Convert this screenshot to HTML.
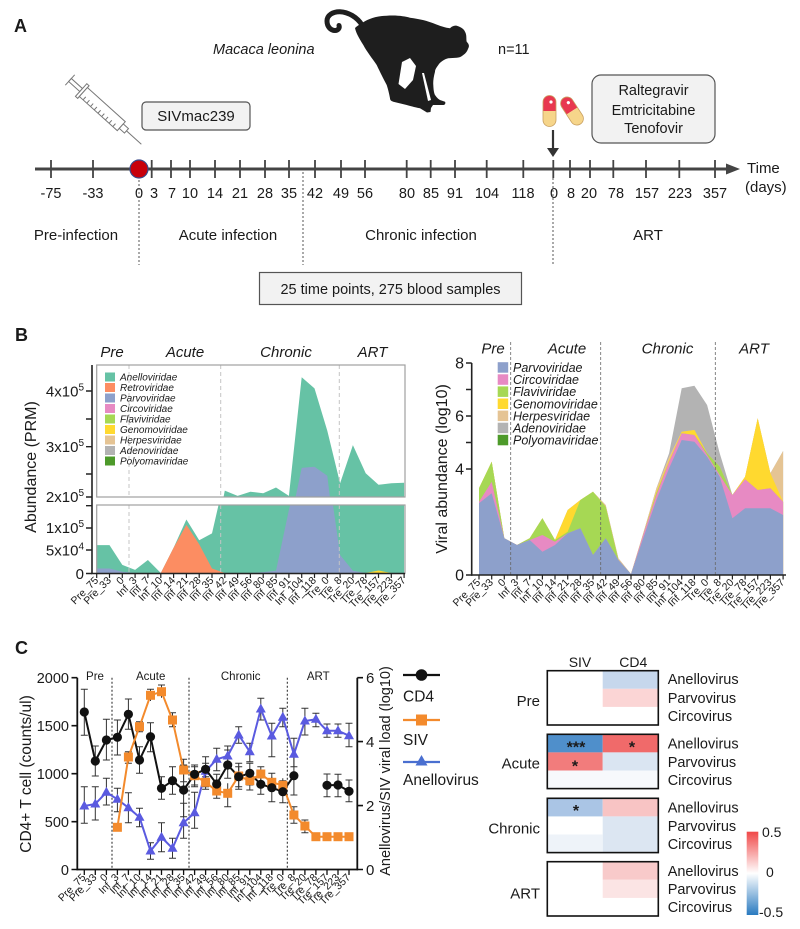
<!DOCTYPE html>
<html><head><meta charset="utf-8">
<style>
html,body{margin:0;padding:0;background:#fff;}
svg{display:block;}
text{font-family:"Liberation Sans",Arial,sans-serif;fill:#1a1a1a;}
</style></head>
<body>
<svg width="800" height="929" viewBox="0 0 800 929" xmlns="http://www.w3.org/2000/svg">
<defs>
<clipPath id="cu"><rect x="96.7" y="365" width="308.3" height="132"/></clipPath>
<clipPath id="cl"><rect x="96.7" y="505" width="308.3" height="68.5"/></clipPath>
<linearGradient id="cb" x1="0" y1="0" x2="0" y2="1">
<stop offset="0" stop-color="#f04848"/><stop offset="0.5" stop-color="#ffffff"/><stop offset="1" stop-color="#2a7ac0"/>
</linearGradient>
</defs>

<!-- ================= PANEL A ================= -->
<text x="14" y="32" font-size="18" font-weight="bold">A</text>
<text x="213" y="54" font-size="14.5" font-style="italic">Macaca leonina</text>
<text x="498" y="54" font-size="14.5">n=11</text>

<!-- monkey -->
<path d="M362 25 C357 17,348 12,340 11.7 C333 11.5,327 15,327 21 C327 27,331 30.5,335 30.5 C338 30.5,340 28,339 25.5" fill="none" stroke="#1e1e1e" stroke-width="5" stroke-linecap="round"/>
<path fill="#1e1e1e" d="M361.7 23.3 C366 20,375 16,386.7 15.7 C398 15,405 16.5,410 17.7 C420 19,428 21,433.3 23.3 C440 26,446 28,450 28.3 C452 26,455 25.5,456.7 25.7 C461 27,464 29,465 31.7 C467 35,466 39,466.7 41.7 C469 44,469.5 46,468.3 48.3 C467 52,465 54,463.3 55 C461 57,459 57.7,456.7 57.7 L448.3 58.3 C445 59,440 62,438.3 65 C436 68,435 70,435 71.7 C433.5 77,433 82,433.3 85 C433.5 90,434 93,435 95 C437 98,439 99.5,440 100 L445 101.7 C446 103,445 105,443.3 105 L433 105 L431 108 L430.5 112 L427 112.5 L420 108.3 C414 107,410 106,406.7 105 L393.3 101.7 C391 101,390 100,390 98.3 C389 93,388 89,386.7 85 C383 78,380 72,376.7 65 C372 58,367 52,363.3 45 C359 38,356 33,355 28 C357 26,359 25,361.7 23.3 Z"/>
<polygon fill="#fff" points="402,62 398.5,84 405,89 413,80 416,66 410,58"/>
<polygon fill="#fff" points="422,73 424,73 431,100 428,101"/>

<!-- syringe -->
<g transform="translate(70,80) rotate(42)" stroke="#777" stroke-width="1" fill="#fff">
<line x1="0" y1="-7" x2="0" y2="7"/>
<rect x="0" y="-2" width="15" height="4"/>
<rect x="15" y="-8.5" width="3" height="17"/>
<rect x="18" y="-6" width="51" height="12"/>
<path d="M23 6V2M28 6V2M33 6V2M38 6V2M43 6V2M48 6V2M53 6V2M58 6V2M63 6V2" fill="none"/>
<rect x="69" y="-3" width="7" height="6"/>
<line x1="76" y1="0" x2="96" y2="0"/>
</g>

<!-- SIVmac239 box -->
<rect x="142" y="102" width="108" height="28" rx="4" fill="#f2f2f2" stroke="#555" stroke-width="1.2"/>
<text x="196" y="121" font-size="15" text-anchor="middle">SIVmac239</text>

<!-- pills -->
<g transform="translate(549.5,111)">
<path d="M-6.5 0V-9A6.5 6.5 0 0 1 6.5 -9V0Z" fill="#e8384f"/>
<path d="M-6.5 0V9A6.5 6.5 0 0 0 6.5 9V0Z" fill="#f6d58a"/>
<rect x="-6.5" y="-15.5" width="13" height="31" rx="6.5" fill="none" stroke="#c9a060" stroke-width="0.8"/>
<circle cx="1.5" cy="-9" r="1.6" fill="#fff"/>
</g>
<g transform="translate(572,111) rotate(-33)">
<path d="M-6.5 0V-9A6.5 6.5 0 0 1 6.5 -9V0Z" fill="#e8384f"/>
<path d="M-6.5 0V9A6.5 6.5 0 0 0 6.5 9V0Z" fill="#f6d58a"/>
<rect x="-6.5" y="-15.5" width="13" height="31" rx="6.5" fill="none" stroke="#c9a060" stroke-width="0.8"/>
<circle cx="1.5" cy="-9" r="1.6" fill="#fff"/>
</g>
<line x1="553" y1="130" x2="553" y2="150" stroke="#333" stroke-width="2.2"/>
<polygon points="547,148 559,148 553,157" fill="#333"/>

<!-- drug box -->
<rect x="592" y="75" width="123" height="68" rx="9" fill="#f2f2f2" stroke="#555" stroke-width="1.2"/>
<text x="653.5" y="95" font-size="14.5" text-anchor="middle">Raltegravir</text>
<text x="653.5" y="115" font-size="14.5" text-anchor="middle">Emtricitabine</text>
<text x="653.5" y="133" font-size="14.5" text-anchor="middle">Tenofovir</text>

<!-- timeline -->
<line x1="35" y1="169" x2="730" y2="169" stroke="#444" stroke-width="3"/>
<polygon points="726,163.5 740,169 726,174.5" fill="#444"/>
<path stroke="#444" stroke-width="1.8" fill="none" d="M51 160V178M93 160V178M151.7 160V178M171 160V178M190 160V178M215 160V178M240 160V178M265 160V178M289 160V178M315 160V178M341 160V178M365 160V178M406.7 160V178M430.7 160V178M455 160V178M486.7 160V178M523.3 160V178M553.3 160V178M570 160V178M590 160V178M613.3 160V178M646 160V178M679.3 160V178M715 160V178"/>
<circle cx="139" cy="169" r="9" fill="#c8000a" stroke="#3a4a8a" stroke-width="1.2"/>
<g font-size="14.5" text-anchor="middle">
<text x="51" y="198">-75</text><text x="93" y="198">-33</text><text x="139" y="198">0</text><text x="154" y="198">3</text>
<text x="172" y="198">7</text><text x="190" y="198">10</text><text x="215" y="198">14</text><text x="240" y="198">21</text>
<text x="265" y="198">28</text><text x="289" y="198">35</text><text x="315" y="198">42</text><text x="341" y="198">49</text>
<text x="365" y="198">56</text><text x="407" y="198">80</text><text x="431" y="198">85</text><text x="455" y="198">91</text>
<text x="487" y="198">104</text><text x="523" y="198">118</text><text x="554" y="198">0</text><text x="571" y="198">8</text>
<text x="589" y="198">20</text><text x="616" y="198">78</text><text x="647" y="198">157</text><text x="680" y="198">223</text>
<text x="715" y="198">357</text>
</g>
<text x="747" y="173" font-size="15">Time</text>
<text x="745" y="192" font-size="15">(days)</text>
<g stroke="#555" stroke-width="1" stroke-dasharray="2,2">
<line x1="139" y1="180" x2="139" y2="265"/>
<line x1="303" y1="172" x2="303" y2="265"/>
<line x1="553" y1="178" x2="553" y2="265"/>
</g>
<g font-size="15" text-anchor="middle">
<text x="76" y="240">Pre-infection</text>
<text x="228" y="240">Acute infection</text>
<text x="421" y="240">Chronic infection</text>
<text x="648" y="240">ART</text>
</g>
<rect x="259.5" y="272.5" width="262" height="32" fill="#f2f2f2" stroke="#555" stroke-width="1.2"/>
<text x="390.5" y="294" font-size="14.5" text-anchor="middle">25 time points, 275 blood samples</text>

<!-- ================= PANEL B ================= -->
<text x="15" y="341" font-size="18" font-weight="bold">B</text>

<!-- B left -->
<g font-size="15" font-style="italic" text-anchor="middle">
<text x="112" y="357">Pre</text><text x="185" y="357">Acute</text><text x="286" y="357">Chronic</text><text x="372.5" y="357">ART</text>
</g>
<g clip-path="url(#cu)">
<polygon fill="#66c2a5" points="96.7,610 96.7,570.1 109.5,570.1 122.3,593.5 135.1,599.3 147.9,587.6 160.8,603 173.6,573.3 186.4,539.9 199.2,564.3 212.0,556.4 224.8,490.6 237.6,495.9 250.4,491.7 263.2,493.3 276.0,487.5 288.9,495.9 301.7,377.2 314.5,388.4 327.3,430.8 340.1,483.2 352.9,445.1 365.7,473.2 378.5,484.8 391.3,483.2 404.1,482.7 404.1,610"/>
<polygon fill="#8da0cb" points="276,610 276.0,600.4 288.9,528.8 301.7,467.9 314.5,466.8 327.3,475.8 340.1,581.8 340.1,610"/>
</g>
<g clip-path="url(#cl)">
<polygon fill="#66c2a5" points="96.7,573 96.7,545.1 109.5,545.1 122.3,564.9 135.1,569.9 147.9,560 160.8,573 173.6,547.8 186.4,519.5 199.2,540.2 212.0,533.4 224.8,477.6 237.6,482.1 250.4,478.5 263.2,479.9 276.0,474.9 288.9,482.1 301.7,381.3 314.5,390.8 327.3,426.8 340.1,471.3 352.9,438.9 365.7,462.8 378.5,472.7 391.3,471.3 404.1,470.9 404.1,573"/>
<polygon fill="#fc8d62" points="147.9,573 160.8,573 173.6,547.8 186.4,524.9 199.2,544.2 212.0,568.5 224.8,573"/>
<polygon fill="#ffd92f" points="365.7,573 378.5,570.5 391.3,573"/>
<polygon fill="#8da0cb" points="96.7,573 96.7,568.5 109.5,568.5 122.3,571.7 135.1,573 250.4,573 263.2,572.1 276.0,570.8 288.9,510 301.7,458.3 314.5,457.4 327.3,465 340.1,555 352.9,570.8 365.7,573"/>
</g>
<g stroke="#c4c4c4" stroke-width="1" stroke-dasharray="4,3">
<line x1="129" y1="365" x2="129" y2="497"/><line x1="220.7" y1="365" x2="220.7" y2="497"/><line x1="339.3" y1="365" x2="339.3" y2="497"/>
<line x1="129" y1="505" x2="129" y2="573"/><line x1="220.7" y1="505" x2="220.7" y2="573"/><line x1="339.3" y1="505" x2="339.3" y2="573"/>
</g>
<rect x="96.7" y="365" width="308.3" height="132" fill="none" stroke="#a0a0a0" stroke-width="1.2"/>
<rect x="96.7" y="505" width="308.3" height="68.5" fill="none" stroke="#a0a0a0" stroke-width="1.2"/>
<!-- legend B left -->
<g font-size="10" font-style="italic">
<rect x="105" y="372.5" width="10" height="9" fill="#66c2a5"/><text x="120" y="380.5">Anelloviridae</text>
<rect x="105" y="383" width="10" height="9" fill="#fc8d62"/><text x="120" y="391">Retroviridae</text>
<rect x="105" y="393.5" width="10" height="9" fill="#8da0cb"/><text x="120" y="401.5">Parvoviridae</text>
<rect x="105" y="404" width="10" height="9" fill="#e78ac3"/><text x="120" y="412">Circoviridae</text>
<rect x="105" y="414.5" width="10" height="9" fill="#a6d854"/><text x="120" y="422.5">Flaviviridae</text>
<rect x="105" y="425" width="10" height="9" fill="#ffd92f"/><text x="120" y="433">Genomoviridae</text>
<rect x="105" y="435.5" width="10" height="9" fill="#e5c494"/><text x="120" y="443.5">Herpesviridae</text>
<rect x="105" y="446" width="10" height="9" fill="#b3b3b3"/><text x="120" y="454">Adenoviridae</text>
<rect x="105" y="456.5" width="10" height="9" fill="#4d9a2a"/><text x="120" y="464.5">Polyomaviridae</text>
</g>
<!-- axes B left -->
<line x1="92" y1="365" x2="92" y2="574" stroke="#222" stroke-width="1.6"/>
<line x1="91" y1="573.5" x2="405" y2="573.5" stroke="#222" stroke-width="1.6"/>
<path stroke="#222" stroke-width="1.4" d="M86 391H92M86 419H92M86 446.7H92M86 474H92M86 497H92M86 505.7H92M86 528H92M86 550H92M86 573.5H92"/>
<path stroke="#222" stroke-width="1.2" d="M96.7 573.5V578M109.5 573.5V578M122.3 573.5V578M135.1 573.5V578M147.9 573.5V578M160.8 573.5V578M173.6 573.5V578M186.4 573.5V578M199.2 573.5V578M212 573.5V578M224.8 573.5V578M237.6 573.5V578M250.4 573.5V578M263.2 573.5V578M276 573.5V578M288.9 573.5V578M301.7 573.5V578M314.5 573.5V578M327.3 573.5V578M340.1 573.5V578M352.9 573.5V578M365.7 573.5V578M378.5 573.5V578M391.3 573.5V578M404.1 573.5V578"/>
<g font-size="15" text-anchor="end">
<text x="84" y="396.5">4x10<tspan dy="-6" font-size="10">5</tspan></text>
<text x="84" y="452">3x10<tspan dy="-6" font-size="10">5</tspan></text>
<text x="84" y="502">2x10<tspan dy="-6" font-size="10">5</tspan></text>
<text x="84" y="533">1x10<tspan dy="-6" font-size="10">5</tspan></text>
<text x="84" y="555.5">5x10<tspan dy="-6" font-size="10">4</tspan></text>
<text x="84" y="579">0</text>
</g>
<text transform="translate(36,467) rotate(-90)" font-size="16" text-anchor="middle">Abundance (PRM)</text>
<g font-size="10.5" text-anchor="end">
<text transform="translate(99,581) rotate(-45)">Pre_75</text>
<text transform="translate(111.8,581) rotate(-45)">Pre_33</text>
<text transform="translate(124.6,581) rotate(-45)">0</text>
<text transform="translate(137.4,581) rotate(-45)">Inf_3</text>
<text transform="translate(150.2,581) rotate(-45)">Inf_7</text>
<text transform="translate(163.1,581) rotate(-45)">Inf_10</text>
<text transform="translate(175.9,581) rotate(-45)">Inf_14</text>
<text transform="translate(188.7,581) rotate(-45)">Inf_21</text>
<text transform="translate(201.5,581) rotate(-45)">Inf_28</text>
<text transform="translate(214.3,581) rotate(-45)">Inf_35</text>
<text transform="translate(227.1,581) rotate(-45)">Inf_42</text>
<text transform="translate(239.9,581) rotate(-45)">Inf_49</text>
<text transform="translate(252.7,581) rotate(-45)">Inf_56</text>
<text transform="translate(265.5,581) rotate(-45)">Inf_80</text>
<text transform="translate(278.3,581) rotate(-45)">Inf_85</text>
<text transform="translate(291.2,581) rotate(-45)">Inf_91</text>
<text transform="translate(304,581) rotate(-45)">Inf_104</text>
<text transform="translate(316.8,581) rotate(-45)">Inf_118</text>
<text transform="translate(329.6,581) rotate(-45)">Tre_0</text>
<text transform="translate(342.4,581) rotate(-45)">Tre_8</text>
<text transform="translate(355.2,581) rotate(-45)">Tre_20</text>
<text transform="translate(368,581) rotate(-45)">Tre_78</text>
<text transform="translate(380.8,581) rotate(-45)">Tre_157</text>
<text transform="translate(393.6,581) rotate(-45)">Tre_223</text>
<text transform="translate(406.4,581) rotate(-45)">Tre_357</text>
</g>

<!-- B right -->
<g font-size="15" font-style="italic" text-anchor="middle">
<text x="493" y="353.5">Pre</text><text x="567" y="353.5">Acute</text><text x="667.5" y="353.5">Chronic</text><text x="754" y="353.5">ART</text>
</g>
<polygon fill="#b3b3b3" points="479,575 479.0,488.3 491.7,461.7 504.3,538.3 517.0,545 529.7,538.3 542.4,518.3 555.0,540 567.7,510 580.4,500 593.0,491.7 605.7,505 618.4,558.3 631.0,574 643.7,531.7 656.4,488.3 669.1,453.3 681.7,388.3 694.4,385.7 707.1,405 719.7,453.3 732.4,495 745.1,476.7 757.7,418.3 770.4,473.3 783.1,451 783.1,575"/>
<polygon fill="#e5c494" points="479,575 479.0,488.3 491.7,461.7 504.3,538.3 517.0,545 529.7,538.3 542.4,518.3 555.0,540 567.7,510 580.4,500 593.0,491.7 605.7,505 618.4,558.3 631.0,574 643.7,531.7 656.4,488.3 669.1,456.7 681.7,431.7 694.4,430 707.1,453.3 719.7,466.7 732.4,495 745.1,476.7 757.7,418.3 770.4,473.3 783.1,451 783.1,575"/>
<polygon fill="#ffd92f" points="479,575 479.0,488.3 491.7,461.7 504.3,538.3 517.0,545 529.7,538.3 542.4,518.3 555.0,540 567.7,510 580.4,500 593.0,491.7 605.7,506.7 618.4,560 631.0,574 643.7,533.3 656.4,491.7 669.1,460 681.7,431.7 694.4,430 707.1,453.3 719.7,466.7 732.4,495 745.1,476.7 757.7,418.3 770.4,473.3 783.1,501.7 783.1,575"/>
<polygon fill="#a6d854" points="479,575 479.0,488.3 491.7,461.7 504.3,538.3 517.0,545 529.7,538.3 542.4,518.3 555.0,540 567.7,531.7 580.4,500 593.0,491.7 605.7,506.7 618.4,560 631.0,574 643.7,533.3 656.4,493.3 669.1,461.7 681.7,433.3 694.4,435 707.1,453.3 719.7,466.7 732.4,495 745.1,479.3 757.7,490 770.4,488.3 783.1,501.7 783.1,575"/>
<polygon fill="#e78ac3" points="479,575 479.0,501.7 491.7,481.7 504.3,538.3 517.0,545 529.7,540 542.4,535 555.0,541.7 567.7,533.3 580.4,528.3 593.0,555 605.7,538.3 618.4,560 631.0,574 643.7,533.3 656.4,495 669.1,461.7 681.7,433.3 694.4,435 707.1,455 719.7,475 732.4,495 745.1,479.3 757.7,490 770.4,488.3 783.1,501.7 783.1,575"/>
<polygon fill="#8da0cb" points="479,575 479.0,503.3 491.7,493.3 504.3,538.3 517.0,545 529.7,540 542.4,551.7 555.0,545 567.7,533.3 580.4,528.3 593.0,555 605.7,538.3 618.4,560 631.0,574 643.7,536.7 656.4,500 669.1,468.3 681.7,440 694.4,441.7 707.1,456.7 719.7,476.7 732.4,518.3 745.1,508.3 757.7,508.3 770.4,508.3 783.1,515 783.1,575"/>
<g stroke="#666" stroke-width="0.8" stroke-dasharray="3,2">
<line x1="510.7" y1="342" x2="510.7" y2="575"/><line x1="600.7" y1="342" x2="600.7" y2="575"/><line x1="715.3" y1="342" x2="715.3" y2="575"/>
</g>
<g font-size="12.5" font-style="italic">
<rect x="497.7" y="362.2" width="10.5" height="10.5" fill="#8da0cb"/><text x="513" y="372">Parvoviridae</text>
<rect x="497.7" y="374.3" width="10.5" height="10.5" fill="#e78ac3"/><text x="513" y="384.1">Circoviridae</text>
<rect x="497.7" y="386.4" width="10.5" height="10.5" fill="#a6d854"/><text x="513" y="396.2">Flaviviridae</text>
<rect x="497.7" y="398.5" width="10.5" height="10.5" fill="#ffd92f"/><text x="513" y="408.3">Genomoviridae</text>
<rect x="497.7" y="410.6" width="10.5" height="10.5" fill="#e5c494"/><text x="513" y="420.4">Herpesviridae</text>
<rect x="497.7" y="422.7" width="10.5" height="10.5" fill="#b3b3b3"/><text x="513" y="432.5">Adenoviridae</text>
<rect x="497.7" y="434.8" width="10.5" height="10.5" fill="#4d9a2a"/><text x="513" y="444.6">Polyomaviridae</text>
</g>
<line x1="471.7" y1="363" x2="471.7" y2="575.8" stroke="#222" stroke-width="1.6"/>
<line x1="471" y1="575" x2="786" y2="575" stroke="#222" stroke-width="1.6"/>
<path stroke="#222" stroke-width="1.4" d="M466 363H471.7M466 389.5H471.7M466 416H471.7M466 442.5H471.7M466 469H471.7M466 575H471.7"/>
<path stroke="#222" stroke-width="1.2" d="M479 575V579.5M491.7 575V579.5M504.3 575V579.5M517 575V579.5M529.7 575V579.5M542.4 575V579.5M555 575V579.5M567.7 575V579.5M580.4 575V579.5M593 575V579.5M605.7 575V579.5M618.4 575V579.5M631 575V579.5M643.7 575V579.5M656.4 575V579.5M669.1 575V579.5M681.7 575V579.5M694.4 575V579.5M707.1 575V579.5M719.7 575V579.5M732.4 575V579.5M745.1 575V579.5M757.7 575V579.5M770.4 575V579.5M783.1 575V579.5"/>
<g font-size="16" text-anchor="end">
<text x="464" y="368.5">8</text><text x="464" y="421.5">6</text><text x="464" y="474.5">4</text><text x="464" y="580.5">0</text>
</g>
<text transform="translate(447,469) rotate(-90)" font-size="16" text-anchor="middle">Viral abundance (log10)</text>
<g font-size="10.5" text-anchor="end">
<text transform="translate(481,583) rotate(-45)">Pre_75</text>
<text transform="translate(493.7,583) rotate(-45)">Pre_33</text>
<text transform="translate(506.3,583) rotate(-45)">0</text>
<text transform="translate(519,583) rotate(-45)">Inf_3</text>
<text transform="translate(531.7,583) rotate(-45)">Inf_7</text>
<text transform="translate(544.4,583) rotate(-45)">Inf_10</text>
<text transform="translate(557,583) rotate(-45)">Inf_14</text>
<text transform="translate(569.7,583) rotate(-45)">Inf_21</text>
<text transform="translate(582.4,583) rotate(-45)">Inf_28</text>
<text transform="translate(595,583) rotate(-45)">Inf_35</text>
<text transform="translate(607.7,583) rotate(-45)">Inf_42</text>
<text transform="translate(620.4,583) rotate(-45)">Inf_49</text>
<text transform="translate(633,583) rotate(-45)">Inf_56</text>
<text transform="translate(645.7,583) rotate(-45)">Inf_80</text>
<text transform="translate(658.4,583) rotate(-45)">Inf_85</text>
<text transform="translate(671.1,583) rotate(-45)">Inf_91</text>
<text transform="translate(683.7,583) rotate(-45)">Inf_104</text>
<text transform="translate(696.4,583) rotate(-45)">Inf_118</text>
<text transform="translate(709.1,583) rotate(-45)">Tre_0</text>
<text transform="translate(721.7,583) rotate(-45)">Tre_8</text>
<text transform="translate(734.4,583) rotate(-45)">Tre_20</text>
<text transform="translate(747.1,583) rotate(-45)">Tre_78</text>
<text transform="translate(759.7,583) rotate(-45)">Tre_157</text>
<text transform="translate(772.4,583) rotate(-45)">Tre_223</text>
<text transform="translate(785.1,583) rotate(-45)">Tre_357</text>
</g>

<!-- ================= PANEL C ================= -->
<text x="15" y="654" font-size="18" font-weight="bold">C</text>
<g font-size="11.5" text-anchor="middle">
<text x="95" y="680">Pre</text><text x="150.7" y="680">Acute</text><text x="240.7" y="680">Chronic</text><text x="318.3" y="680">ART</text>
</g>
<g stroke="#222" stroke-width="1" stroke-dasharray="2,2">
<line x1="112" y1="677.7" x2="112" y2="869.5"/><line x1="189" y1="677.7" x2="189" y2="869.5"/><line x1="287.3" y1="677.7" x2="287.3" y2="869.5"/>
</g>
<!-- error bars -->
<path fill="none" stroke="#333" stroke-width="1" d="M84.3 786.7V823.3M80.8 786.7H87.8M80.8 823.3H87.8M95.3 786.7V820M91.8 786.7H98.8M91.8 820H98.8M106.4 778.3V805M102.9 778.3H109.9M102.9 805H109.9M117.4 788.3V811.7M113.9 788.3H120.9M113.9 811.7H120.9M128.4 792.7V822.7M124.9 792.7H131.9M124.9 822.7H131.9M139.5 808.3V826.7M136 808.3H143M136 826.7H143M150.5 842.7V859.3M147 842.7H154M147 859.3H154M161.5 822.7V851.7M158 822.7H165M158 851.7H165M172.5 838.3V858.3M169 838.3H176M169 858.3H176M183.6 803.3V838.3M180.1 803.3H187.1M180.1 838.3H187.1M194.6 792.3V828.3M191.1 792.3H198.1M191.1 828.3H198.1M205.6 756.7V786.7M202.1 756.7H209.1M202.1 786.7H209.1M216.7 748.3V770.7M213.2 748.3H220.2M213.2 770.7H220.2M227.7 746V765M224.2 746H231.2M224.2 765H231.2M238.7 726.7V743.3M235.2 726.7H242.2M235.2 743.3H242.2M249.8 743.3V761.7M246.3 743.3H253.3M246.3 761.7H253.3M260.8 698.3V720M257.3 698.3H264.3M257.3 720H264.3M271.8 723.3V756.7M268.3 723.3H275.3M268.3 756.7H275.3M282.8 708.3V726.7M279.3 708.3H286.3M279.3 726.7H286.3M293.9 738.3V766.7M290.4 738.3H297.4M290.4 766.7H297.4M304.9 708.3V735M301.4 708.3H308.4M301.4 735H308.4M315.9 713.3V726.7M312.4 713.3H319.4M312.4 726.7H319.4M327 724V737.3M323.5 724H330.5M323.5 737.3H330.5M338 724V737.3M334.5 724H341.5M334.5 737.3H341.5M349 723.3V746.7M345.5 723.3H352.5M345.5 746.7H352.5"/>
<path fill="none" stroke="#333" stroke-width="1" d="M128.4 751.7V763.3M124.9 751.7H131.9M124.9 763.3H131.9M139.5 721.7V731.7M136 721.7H143M136 731.7H143M150.5 689.3V701M147 689.3H154M161.5 685V697.7M158 685H165M172.5 712.7V726.7M169 712.7H176M169 726.7H176M183.6 759.3V781.7M180.1 759.3H187.1M180.1 781.7H187.1M194.6 766.7V785M191.1 766.7H198.1M191.1 785H198.1M205.6 776.7V789.3M202.1 776.7H209.1M202.1 789.3H209.1M216.7 783.3V798.3M213.2 798.3H220.2M227.7 783.3V806.7M224.2 806.7H231.2M238.7 766.7V786.7M235.2 766.7H242.2M235.2 786.7H242.2M249.8 773.3V790M246.3 790H253.3M260.8 766.7V783.3M257.3 766.7H264.3M271.8 776.7V788.3M282.8 778.3V793.3M293.9 806.7V823.3M290.4 806.7H297.4M290.4 823.3H297.4M304.9 820V832.7M301.4 820H308.4M301.4 832.7H308.4"/>
<path fill="none" stroke="#333" stroke-width="1" d="M84.3 689.3V735.3M80.8 689.3H87.8M80.8 735.3H87.8M95.3 746V776M91.8 746H98.8M91.8 776H98.8M106.4 719.3V760M102.9 719.3H109.9M102.9 760H109.9M117.4 720V755M113.9 720H120.9M113.9 755H120.9M128.4 699V729.3M124.9 699H131.9M124.9 729.3H131.9M139.5 746.7V773.3M136 746.7H143M136 773.3H143M150.5 722.7V751.7M147 722.7H154M147 751.7H154M161.5 776.7V799.3M158 776.7H165M158 799.3H165M172.5 766.7V794.3M169 766.7H176M169 794.3H176M183.6 765V816.7M180.1 765H187.1M180.1 816.7H187.1M194.6 765V786.7M191.1 765H198.1M191.1 786.7H198.1M205.6 763.3V783.3M202.1 763.3H209.1M202.1 783.3H209.1M216.7 774.3V793.3M213.2 774.3H220.2M213.2 793.3H220.2M227.7 750V778.3M224.2 750H231.2M224.2 778.3H231.2M238.7 763.3V789.3M235.2 763.3H242.2M235.2 789.3H242.2M249.8 763.3V785M246.3 763.3H253.3M246.3 785H253.3M260.8 773.3V794.3M257.3 773.3H264.3M257.3 794.3H264.3M271.8 773.3V801.7M268.3 773.3H275.3M268.3 801.7H275.3M282.8 780.7V802.7M279.3 780.7H286.3M279.3 802.7H286.3M293.9 756V795M290.4 756H297.4M290.4 795H297.4M327 774V796.7M323.5 774H330.5M323.5 796.7H330.5M338 774.3V796.7M334.5 774.3H341.5M334.5 796.7H341.5M349 780V801.7M345.5 780H352.5M345.5 801.7H352.5"/>
<!-- Anellovirus series -->
<polyline fill="none" stroke="#5a5ae0" stroke-width="2" points="84.3,806 95.3,804 106.4,792.3 117.4,799.3 128.4,807.7 139.5,817.3 150.5,851 161.5,837.3 172.5,848.3 183.6,822.7 194.6,812.7 205.6,771.3 216.7,759.3 227.7,756 238.7,735 249.8,751.7 260.8,709 271.8,736 282.8,717.3 293.9,754.3 304.9,721 315.9,719.3 327.0,730.7 338.0,730.7 349.0,735.7"/>
<g fill="#5a5ae0">
<polygon points="84.3,800.5 79.3,809.5 89.3,809.5"/><polygon points="95.3,798.5 90.3,807.5 100.3,807.5"/><polygon points="106.4,786.8 101.4,795.8 111.4,795.8"/><polygon points="117.4,793.8 112.4,802.8 122.4,802.8"/><polygon points="128.4,802.2 123.4,811.2 133.4,811.2"/><polygon points="139.5,811.8 134.5,820.8 144.5,820.8"/><polygon points="150.5,845.5 145.5,854.5 155.5,854.5"/><polygon points="161.5,831.8 156.5,840.8 166.5,840.8"/><polygon points="172.5,842.8 167.5,851.8 177.5,851.8"/><polygon points="183.6,817.2 178.6,826.2 188.6,826.2"/><polygon points="194.6,807.2 189.6,816.2 199.6,816.2"/><polygon points="205.6,765.8 200.6,774.8 210.6,774.8"/><polygon points="216.7,753.8 211.7,762.8 221.7,762.8"/><polygon points="227.7,750.5 222.7,759.5 232.7,759.5"/><polygon points="238.7,729.5 233.7,738.5 243.7,738.5"/><polygon points="249.8,746.2 244.8,755.2 254.8,755.2"/><polygon points="260.8,703.5 255.8,712.5 265.8,712.5"/><polygon points="271.8,730.5 266.8,739.5 276.8,739.5"/><polygon points="282.8,711.8 277.8,720.8 287.8,720.8"/><polygon points="293.9,748.8 288.9,757.8 298.9,757.8"/><polygon points="304.9,715.5 299.9,724.5 309.9,724.5"/><polygon points="315.9,713.8 310.9,722.8 320.9,722.8"/><polygon points="327,725.2 322,734.2 332,734.2"/><polygon points="338,725.2 333,734.2 343,734.2"/><polygon points="349,730.2 344,739.2 354,739.2"/>
</g>
<!-- CD4 series -->
<polyline fill="none" stroke="#111" stroke-width="2" points="84.3,712 95.3,761 106.4,740 117.4,737.3 128.4,714.3 139.5,760 150.5,736.7 161.5,788.3 172.5,780.7 183.6,790 194.6,774.3 205.6,769.3 216.7,784 227.7,765 238.7,776.7 249.8,773.3 260.8,784.3 271.8,787.7 282.8,791.7 293.9,775.7"/>
<polyline fill="none" stroke="#111" stroke-width="2" points="327.0,785.3 338.0,785 349.0,791.3"/>
<!-- SIV series -->
<polyline fill="none" stroke="#f38a2c" stroke-width="2" points="117.4,827.3 128.4,757 139.5,726.7 150.5,695.3 161.5,691.7 172.5,720 183.6,770 194.6,775.7 205.6,782.3 216.7,791 227.7,793.3 238.7,776 249.8,780.7 260.8,774 271.8,782.3 282.8,785.3 293.9,815 304.9,826 315.9,836.7 327.0,836.7 338.0,836.7 349.0,836.7"/>
<g fill="#f38a2c">
<rect x="112.9" y="822.8" width="9" height="9"/><rect x="123.9" y="752.5" width="9" height="9"/><rect x="135" y="722.2" width="9" height="9"/><rect x="146" y="690.8" width="9" height="9"/><rect x="157" y="687.2" width="9" height="9"/><rect x="168" y="715.5" width="9" height="9"/><rect x="179.1" y="765.5" width="9" height="9"/><rect x="190.1" y="771.2" width="9" height="9"/><rect x="201.1" y="777.8" width="9" height="9"/><rect x="212.2" y="786.5" width="9" height="9"/><rect x="223.2" y="788.8" width="9" height="9"/><rect x="234.2" y="771.5" width="9" height="9"/><rect x="245.3" y="776.2" width="9" height="9"/><rect x="256.3" y="769.5" width="9" height="9"/><rect x="267.3" y="777.8" width="9" height="9"/><rect x="278.3" y="780.8" width="9" height="9"/><rect x="289.4" y="810.5" width="9" height="9"/><rect x="300.4" y="821.5" width="9" height="9"/><rect x="311.4" y="832.2" width="9" height="9"/><rect x="322.5" y="832.2" width="9" height="9"/><rect x="333.5" y="832.2" width="9" height="9"/><rect x="344.5" y="832.2" width="9" height="9"/>
</g>
<g fill="#111">
<circle cx="84.3" cy="712" r="4.6"/><circle cx="95.3" cy="761" r="4.6"/><circle cx="106.4" cy="740" r="4.6"/><circle cx="117.4" cy="737.3" r="4.6"/><circle cx="128.4" cy="714.3" r="4.6"/><circle cx="139.5" cy="760" r="4.6"/><circle cx="150.5" cy="736.7" r="4.6"/><circle cx="161.5" cy="788.3" r="4.6"/><circle cx="172.5" cy="780.7" r="4.6"/><circle cx="183.6" cy="790" r="4.6"/><circle cx="194.6" cy="774.3" r="4.6"/><circle cx="205.6" cy="769.3" r="4.6"/><circle cx="216.7" cy="784" r="4.6"/><circle cx="227.7" cy="765" r="4.6"/><circle cx="238.7" cy="776.7" r="4.6"/><circle cx="249.8" cy="773.3" r="4.6"/><circle cx="260.8" cy="784.3" r="4.6"/><circle cx="271.8" cy="787.7" r="4.6"/><circle cx="282.8" cy="791.7" r="4.6"/><circle cx="293.9" cy="775.7" r="4.6"/><circle cx="327" cy="785.3" r="4.6"/><circle cx="338" cy="785" r="4.6"/><circle cx="349" cy="791.3" r="4.6"/>
</g>
<!-- axes C -->
<line x1="77.3" y1="677.7" x2="77.3" y2="870.3" stroke="#111" stroke-width="1.8"/>
<line x1="357.3" y1="677.7" x2="357.3" y2="870.3" stroke="#111" stroke-width="1.8"/>
<line x1="76.5" y1="869.5" x2="358" y2="869.5" stroke="#111" stroke-width="1.8"/>
<path stroke="#111" stroke-width="1.6" d="M71.5 677.7H77.3M71.5 725.7H77.3M71.5 773.7H77.3M71.5 821.7H77.3M71.5 869.5H77.3M357.3 677.7H363M357.3 741.6H363M357.3 805.6H363M357.3 869.5H363"/>
<path stroke="#111" stroke-width="1.3" d="M84.3 869.5V875M95.3 869.5V875M106.4 869.5V875M117.4 869.5V875M128.4 869.5V875M139.5 869.5V875M150.5 869.5V875M161.5 869.5V875M172.5 869.5V875M183.6 869.5V875M194.6 869.5V875M205.6 869.5V875M216.7 869.5V875M227.7 869.5V875M238.7 869.5V875M249.8 869.5V875M260.8 869.5V875M271.8 869.5V875M282.8 869.5V875M293.9 869.5V875M304.9 869.5V875M315.9 869.5V875M327 869.5V875M338 869.5V875M349 869.5V875"/>
<g font-size="14.5" text-anchor="end">
<text x="69" y="683">2000</text><text x="69" y="731">1500</text><text x="69" y="779">1000</text><text x="69" y="827">500</text><text x="69" y="875">0</text>
</g>
<g font-size="15">
<text x="366" y="683">6</text><text x="366" y="747">4</text><text x="366" y="811">2</text><text x="366" y="875">0</text>
</g>
<text transform="translate(31,774) rotate(-90)" font-size="15.5" text-anchor="middle">CD4+ T cell (counts/ul)</text>
<text transform="translate(390,771) rotate(-90)" font-size="14.5" text-anchor="middle">Anellovirus/SIV viral load (log10)</text>
<g font-size="10.5" text-anchor="end">
<text transform="translate(86.3,878) rotate(-45)">Pre_75</text>
<text transform="translate(97.3,878) rotate(-45)">Pre_33</text>
<text transform="translate(108.4,878) rotate(-45)">0</text>
<text transform="translate(119.4,878) rotate(-45)">Inf_3</text>
<text transform="translate(130.4,878) rotate(-45)">Inf_7</text>
<text transform="translate(141.5,878) rotate(-45)">Inf_10</text>
<text transform="translate(152.5,878) rotate(-45)">Inf_14</text>
<text transform="translate(163.5,878) rotate(-45)">Inf_21</text>
<text transform="translate(174.5,878) rotate(-45)">Inf_28</text>
<text transform="translate(185.6,878) rotate(-45)">Inf_35</text>
<text transform="translate(196.6,878) rotate(-45)">Inf_42</text>
<text transform="translate(207.6,878) rotate(-45)">Inf_49</text>
<text transform="translate(218.7,878) rotate(-45)">Inf_56</text>
<text transform="translate(229.7,878) rotate(-45)">Inf_80</text>
<text transform="translate(240.7,878) rotate(-45)">Inf_85</text>
<text transform="translate(251.8,878) rotate(-45)">Inf_91</text>
<text transform="translate(262.8,878) rotate(-45)">Inf_104</text>
<text transform="translate(273.8,878) rotate(-45)">Inf_118</text>
<text transform="translate(284.8,878) rotate(-45)">Tre_0</text>
<text transform="translate(295.9,878) rotate(-45)">Tre_8</text>
<text transform="translate(306.9,878) rotate(-45)">Tre_20</text>
<text transform="translate(317.9,878) rotate(-45)">Tre_78</text>
<text transform="translate(329,878) rotate(-45)">Tre_157</text>
<text transform="translate(340,878) rotate(-45)">Tre_223</text>
<text transform="translate(351,878) rotate(-45)">Tre_357</text>
</g>
<!-- legend C -->
<line x1="403" y1="675" x2="440" y2="675" stroke="#111" stroke-width="2.2"/>
<circle cx="421.5" cy="675" r="5.8" fill="#111"/>
<text x="403" y="701.5" font-size="15.5">CD4</text>
<line x1="403" y1="720" x2="440" y2="720" stroke="#f38a2c" stroke-width="2.2"/>
<rect x="416" y="714.5" width="11" height="11" fill="#f38a2c"/>
<text x="403" y="745" font-size="15.5">SIV</text>
<line x1="403" y1="762" x2="440" y2="762" stroke="#4a6fd0" stroke-width="2.2"/>
<polygon points="421.5,755 415.5,765.5 427.5,765.5" fill="#4a6fd0"/>
<text x="403" y="785" font-size="15.5">Anellovirus</text>

<!-- heatmap -->
<text x="580" y="667" font-size="14" text-anchor="middle">SIV</text>
<text x="633.3" y="667" font-size="14" text-anchor="middle">CD4</text>
<!-- Pre -->
<rect x="547.3" y="670.7" width="111" height="54.3" fill="#fff"/>
<rect x="602.7" y="670.7" width="55.6" height="18.1" fill="#c6d7ec"/>
<rect x="602.7" y="688.8" width="55.6" height="18.1" fill="#fbd5d5"/>
<!-- Acute -->
<rect x="547.3" y="734.3" width="111" height="54.3" fill="#f7f9fc"/>
<rect x="547.3" y="734.3" width="55.4" height="18.1" fill="#4f8fcb"/>
<rect x="602.7" y="734.3" width="55.6" height="18.1" fill="#f06a6a"/>
<rect x="547.3" y="752.4" width="55.4" height="18.1" fill="#f27c7c"/>
<rect x="602.7" y="752.4" width="55.6" height="18.1" fill="#dae5f2"/>
<!-- Chronic -->
<rect x="547.3" y="798.3" width="111" height="54.3" fill="#fff"/>
<rect x="547.3" y="798.3" width="55.4" height="18.1" fill="#aac5e5"/>
<rect x="602.7" y="798.3" width="55.6" height="18.1" fill="#f8c4c4"/>
<rect x="602.7" y="816.4" width="55.6" height="36.2" fill="#dce6f2"/>
<rect x="547.3" y="834.5" width="55.4" height="18.1" fill="#eef3f9"/>
<!-- ART -->
<rect x="547.3" y="861.7" width="111" height="54.3" fill="#fff"/>
<rect x="602.7" y="861.7" width="55.6" height="18.1" fill="#f8caca"/>
<rect x="602.7" y="879.8" width="55.6" height="18.1" fill="#fbe4e4"/>
<g fill="none" stroke="#111" stroke-width="1.6">
<rect x="547.3" y="670.7" width="111" height="54.3"/>
<rect x="547.3" y="734.3" width="111" height="54.3"/>
<rect x="547.3" y="798.3" width="111" height="54.3"/>
<rect x="547.3" y="861.7" width="111" height="54.3"/>
</g>
<g font-size="16" font-weight="bold" text-anchor="middle">
<text x="576" y="752.5">***</text>
<text x="632" y="752.5">*</text>
<text x="575" y="771.5">*</text>
<text x="576" y="816">*</text>
</g>
<g font-size="14.5">
<text x="667.7" y="684">Anellovirus</text><text x="667.7" y="703">Parvovirus</text><text x="667.7" y="721">Circovirus</text>
<text x="667.7" y="748.5">Anellovirus</text><text x="667.7" y="767">Parvovirus</text><text x="667.7" y="785">Circovirus</text>
<text x="667.7" y="812.5">Anellovirus</text><text x="667.7" y="831">Parvovirus</text><text x="667.7" y="849">Circovirus</text>
<text x="667.7" y="876">Anellovirus</text><text x="667.7" y="894">Parvovirus</text><text x="667.7" y="912">Circovirus</text>
</g>
<g font-size="15" text-anchor="end">
<text x="540" y="706">Pre</text><text x="540" y="768.5">Acute</text><text x="540" y="833.5">Chronic</text><text x="540" y="898.5">ART</text>
</g>
<rect x="746.7" y="831.7" width="11.6" height="83.3" fill="url(#cb)"/>
<g font-size="14">
<text x="762" y="837">0.5</text><text x="766" y="877">0</text><text x="759" y="917">-0.5</text>
</g>
</svg>
</body></html>
